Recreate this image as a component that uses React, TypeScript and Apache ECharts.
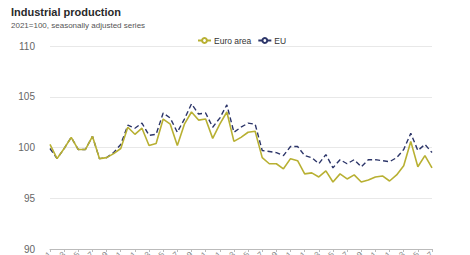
import React, { useEffect, useRef } from "react";
import * as echarts from "echarts";

const months: string[] = [];
for (let y = 2021; y <= 2025; y++) {
  for (let m = 1; m <= 12; m++) {
    if (months.length < 55) months.push(`${y}-${m < 10 ? "0" + m : m}`);
  }
}

const euroArea = [
  100.3, 98.9, 99.9, 101.0, 99.8, 99.8, 101.1, 98.9, 99.0, 99.4,
  99.9, 102.0, 101.3, 101.9, 100.2, 100.4, 102.8, 102.3, 100.2, 102.3,
  103.5, 102.7, 102.8, 100.9, 102.3, 103.5, 100.6, 101.0, 101.5, 101.6,
  99.0, 98.4, 98.4, 97.9, 98.9, 98.7, 97.4, 97.5, 97.1, 97.7,
  96.6, 97.4, 96.9, 97.3, 96.6, 96.8, 97.1, 97.2, 96.7, 97.3,
  98.2, 100.6, 98.1, 99.2, 98.0,
];

const eu = [
  99.9, 98.9, 99.9, 101.0, 99.8, 99.8, 101.1, 98.9, 99.0, 99.5,
  100.3, 102.2, 101.9, 102.4, 101.2, 101.3, 103.4, 102.9, 101.5, 102.8,
  104.3, 103.3, 103.4, 102.0, 102.9, 104.2, 101.5, 102.0, 102.4, 102.3,
  99.7, 99.6, 99.5, 99.2, 100.1, 100.1, 99.2, 99.0, 98.4, 99.3,
  98.0, 98.8, 98.4, 98.8, 98.1, 98.8, 98.8, 98.7, 98.6, 99.0,
  99.8, 101.4, 99.7, 100.3, 99.5,
];

const yTicks = { min: 90, max: 110, interval: 5 };

export default function App() {
  const ref = useRef<HTMLDivElement>(null);
  useEffect(() => {
    if (!ref.current) return;
    const chart = echarts.init(ref.current, null, { renderer: "svg" });
    chart.setOption({
      animation: false,
      backgroundColor: "#ffffff",
      textStyle: { fontFamily: "Liberation Sans, Arial, sans-serif" },
      title: {
        text: "Industrial production",
        subtext: "2021=100, seasonally adjusted series",
        left: 6,
        top: 1,
        itemGap: 4,
        textStyle: { fontSize: 11, fontWeight: "bold", color: "#2a2a2a" },
        subtextStyle: { fontSize: 8, color: "#555555" },
      },
      legend: {
        data: ["Euro area", "EU"],
        top: 31,
        left: 192,
        itemWidth: 13,
        itemHeight: 6,
        itemGap: 6,
        textStyle: { fontSize: 8.5, color: "#333333", padding: [0, 0, 0, -2] },
      },
      grid: {
        left: 50,
        right: 38,
        top: 46,
        bottom: 6,
        containLabel: false,
        outerBoundsMode: "none",
      },
      xAxis: {
        type: "category",
        data: months,
        boundaryGap: false,
        axisLine: { lineStyle: { color: "#bbbbbb" } },
        axisTick: { interval: 1, length: 3, lineStyle: { color: "#bbbbbb" } },
        axisLabel: { interval: 1, rotate: 45, fontSize: 8, color: "#888888", margin: 4 },
        splitLine: { show: false },
      },
      yAxis: {
        type: "value",
        min: yTicks.min,
        max: yTicks.max,
        interval: yTicks.interval,
        axisLine: { show: false },
        axisTick: { show: false },
        axisLabel: { fontSize: 10, color: "#666666", margin: 15 },
        splitLine: { lineStyle: { color: "#e8e8e8" } },
      },
      series: [
        {
          name: "Euro area",
          type: "line",
          data: euroArea,
          showSymbol: false,
          symbol: "emptyCircle",
          color: "#b8b032",
          lineStyle: { width: 1.6, color: "#b8b032" },
          z: 3,
        },
        {
          name: "EU",
          type: "line",
          data: eu,
          showSymbol: false,
          symbol: "emptyCircle",
          color: "#2c3569",
          lineStyle: { width: 1.4, type: [5, 3], color: "#2c3569" },
          z: 2,
        },
      ],
    });
    return () => chart.dispose();
  }, []);
  return (
    <div
      ref={ref}
      style={{ position: "fixed", left: 0, top: 0, width: 470, height: 255 }}
    />
  );
}
